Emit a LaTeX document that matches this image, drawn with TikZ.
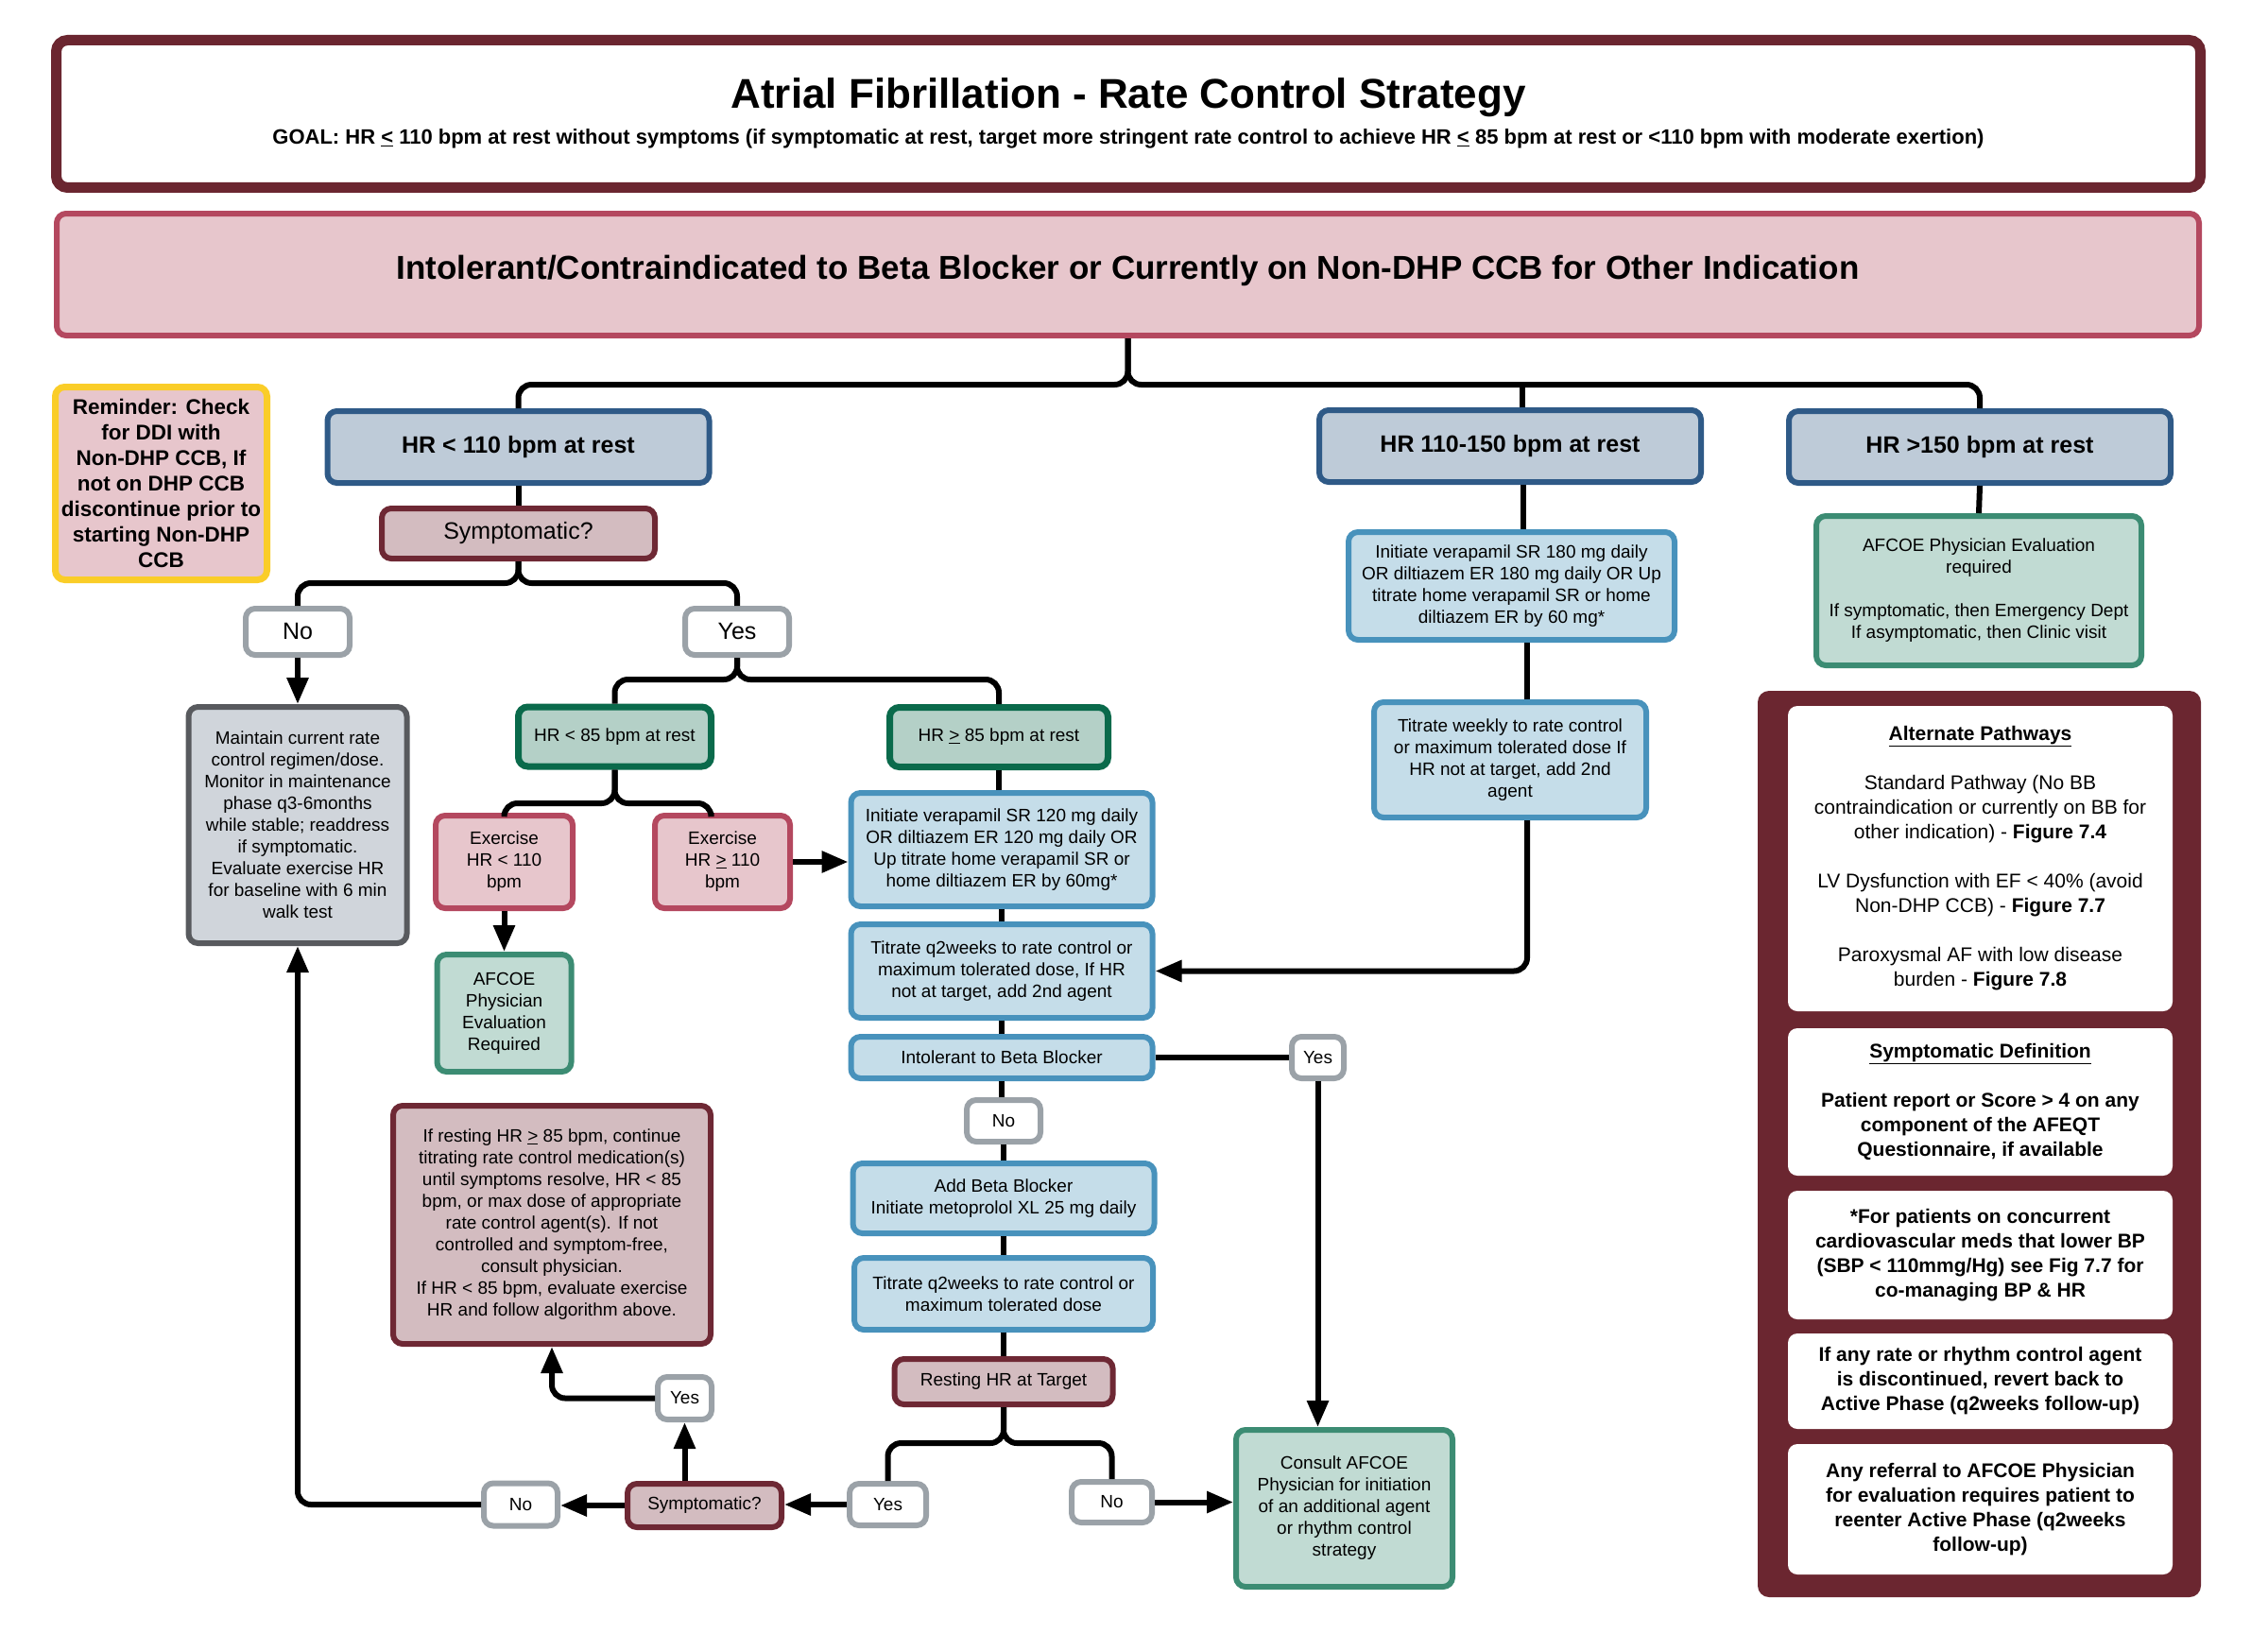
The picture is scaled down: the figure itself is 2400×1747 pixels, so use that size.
\documentclass[tikz,border=0pt]{standalone}
\usepackage{fontspec}
\setmainfont{Liberation Sans}
\usetikzlibrary{arrows.meta}
\definecolor{maroon}{HTML}{6B2630}
\definecolor{rosefill}{HTML}{E7C6CC}
\definecolor{rosedraw}{HTML}{B4485F}
\definecolor{hrfill}{HTML}{BECBD8}
\definecolor{hrdraw}{HTML}{2F5A87}
\definecolor{symfill}{HTML}{D3BCC0}
\definecolor{symdraw}{HTML}{6E2834}
\definecolor{yndraw}{HTML}{9BA2A8}
\definecolor{grayfill}{HTML}{D0D5DB}
\definecolor{graydraw}{HTML}{585A5E}
\definecolor{dgfill}{HTML}{B4D0C7}
\definecolor{dgdraw}{HTML}{0A6A4B}
\definecolor{lgfill}{HTML}{C1DBD3}
\definecolor{lgdraw}{HTML}{3C8C73}
\definecolor{bfill}{HTML}{C5DDE9}
\definecolor{bdraw}{HTML}{4892BC}
\definecolor{yel}{HTML}{FACD28}
\newcommand{\setfs}[2]{\fontsize{#1}{#2}\selectfont}
\newcommand{\uleq}[1]{\underline{#1}}
\begin{document}
\begin{tikzpicture}[x=1pt,y=-1pt,
  base/.style={rounded corners=10pt,line width=6pt,align=center,inner sep=0pt,font=\setfs{19}{23}},
  hrbox/.style={base,fill=hrfill,draw=hrdraw,font=\setfs{25}{30}\bfseries,minimum width=404,minimum height=76},
  symbox/.style={base,fill=symfill,draw=symdraw},
  ynbox/.style={base,fill=white,draw=yndraw},
  graybox/.style={base,fill=grayfill,draw=graydraw},
  dgbox/.style={base,fill=dgfill,draw=dgdraw,line width=7pt},
  rosebox/.style={base,fill=rosefill,draw=rosedraw},
  lgbox/.style={base,fill=lgfill,draw=lgdraw},
  bbox/.style={base,fill=bfill,draw=bdraw},
  pbox/.style={rounded corners=10pt,fill=white,draw=none,align=center,inner sep=0pt,font=\setfs{21}{26},minimum width=407},
  conn/.style={line width=6pt,draw=black,rounded corners=14pt},
  arr/.style={conn,-{Triangle[length=28pt,width=22pt]}}
]
\useasboundingbox (0,0) rectangle (2400,1747);

% title
\node[rounded corners=12pt,line width=11pt,draw=maroon,fill=white,minimum width=2269,minimum height=156,inner sep=0pt] (titlebox) at (1194,120.5) {};
\node[font=\setfs{44}{50}\bfseries,inner sep=0pt] (ttl) at (1194,103) {Atrial Fibrillation - Rate Control Strategy};
\node[font=\setfs{22}{26}\bfseries,inner sep=0pt] (goal) at (1194,147) {GOAL: HR \uleq{<} 110 bpm at rest without symptoms (if symptomatic at rest, target more stringent rate control to achieve HR \uleq{<} 85 bpm at rest or <110 bpm with moderate exertion)};

% banner
\node[rosebox,minimum width=2267,minimum height=129] (banner) at (1193.5,290.5) {};
\node[font=\setfs{35}{40}\bfseries,inner sep=0pt] (bannertxt) at (1193.5,286) {Intolerant/Contraindicated to Beta Blocker or Currently on Non-DHP CCB for Other Indication};

% reminder
\node[base,fill=rosefill,draw=yel,line width=7pt,minimum width=224,minimum height=204,font=\setfs{22.5}{27}\bfseries] (remind) at (170.5,511.5) {Reminder: Check\\for DDI with\\Non-DHP CCB, If\\not on DHP CCB\\discontinue prior to\\starting Non-DHP\\CCB};

% HR boxes
\node[hrbox] (hr1) at (548.5,473) {HR < 110 bpm at rest};
\node[hrbox] (hr2) at (1598,472) {HR 110-150 bpm at rest};
\node[hrbox] (hr3) at (2095,473) {HR >150 bpm at rest};

% left branch
\node[symbox,minimum width=289,minimum height=53,font=\setfs{25}{30}] (sym1) at (548.5,564.5) {Symptomatic?};
\node[ynbox,minimum width=110,minimum height=49,font=\setfs{25}{30}] (no1) at (315,668.5) {No};
\node[ynbox,minimum width=110,minimum height=49,font=\setfs{25}{30}] (yes1) at (780,668.5) {Yes};
\node[graybox,minimum width=231,minimum height=250] (maint) at (315,873) {Maintain current rate\\control regimen/dose.\\Monitor in maintenance\\phase q3-6months\\while stable; readdress\\if symptomatic.\\Evaluate exercise HR\\for baseline with 6 min\\walk test};
\node[dgbox,minimum width=204,minimum height=63] (hr85a) at (650.5,779.5) {HR < 85 bpm at rest};
\node[dgbox,minimum width=231,minimum height=63] (hr85b) at (1057,780) {HR \uleq{>} 85 bpm at rest};
\node[rosebox,minimum width=145,minimum height=98] (ex1) at (533.5,912) {Exercise\\HR < 110\\bpm};
\node[rosebox,minimum width=143,minimum height=98] (ex2) at (764.5,912) {Exercise\\HR \uleq{>} 110\\bpm};
\node[lgbox,minimum width=142,minimum height=124] (afc1) at (533.5,1072) {AFCOE\\Physician\\Evaluation\\Required};
\node[symbox,minimum width=336,minimum height=252] (big) at (584,1296) {If resting HR \uleq{>} 85 bpm, continue\\titrating rate control medication(s)\\until symptoms resolve, HR < 85\\bpm, or max dose of appropriate\\rate control agent(s). If not\\controlled and symptom-free,\\consult physician.\\If HR < 85 bpm, evaluate exercise\\HR and follow algorithm above.};

% center column
\node[bbox,minimum width=319,minimum height=120] (init120) at (1060,899) {Initiate verapamil SR 120 mg daily\\OR diltiazem ER 120 mg daily OR\\Up titrate home verapamil SR or\\home diltiazem ER by 60mg*};
\node[bbox,minimum width=319,minimum height=99] (tit1) at (1060,1027.5) {Titrate q2weeks to rate control or\\maximum tolerated dose, If HR\\not at target, add 2nd agent};
\node[bbox,minimum width=319,minimum height=44] (intol) at (1060,1119) {Intolerant to Beta Blocker};
\node[ynbox,minimum width=78,minimum height=44] (no2) at (1062,1186) {No};
\node[bbox,minimum width=319,minimum height=74] (addbb) at (1062,1268) {Add Beta Blocker\\Initiate metoprolol XL 25 mg daily};
\node[bbox,minimum width=316,minimum height=76] (tit2) at (1062,1369) {Titrate q2weeks to rate control or\\maximum tolerated dose};
\node[symbox,minimum width=231,minimum height=48] (rest) at (1062,1462) {Resting HR at Target};
\node[ynbox,minimum width=81,minimum height=44] (yes3) at (939.5,1592) {Yes};
\node[ynbox,minimum width=85,minimum height=43] (no3) at (1176.5,1589.5) {No};
\node[lgbox,minimum width=229,minimum height=166] (consult) at (1422.5,1596) {Consult AFCOE\\Physician for initiation\\of an additional agent\\or rhythm control\\strategy};
\node[symbox,minimum width=163,minimum height=46] (sym2) at (745.5,1593) {Symptomatic?};
\node[ynbox,minimum width=78,minimum height=45] (no4) at (551,1592) {No};
\node[ynbox,minimum width=57,minimum height=45] (yes4) at (724.5,1479.5) {Yes};
\node[ynbox,minimum width=55,minimum height=44] (yes2) at (1394.5,1119) {Yes};

% HR 110-150 column
\node[bbox,minimum width=345,minimum height=114] (init180) at (1599.5,620) {Initiate verapamil SR 180 mg daily\\OR diltiazem ER 180 mg daily OR Up\\titrate home verapamil SR or home\\diltiazem ER by 60 mg*};
\node[bbox,minimum width=288,minimum height=122] (titw) at (1598,804) {Titrate weekly to rate control\\or maximum tolerated dose If\\HR not at target, add 2nd\\agent};

% HR >150 column
\node[lgbox,minimum width=344,minimum height=158] (afc2) at (2094,625) {AFCOE Physician Evaluation\\required\\[23pt]If symptomatic, then Emergency Dept\\If asymptomatic, then Clinic visit};

% right panel
\node[rounded corners=12pt,fill=maroon,draw=none,minimum width=469,minimum height=959,inner sep=0pt] (panel) at (2094.5,1210.5) {};
\node[pbox,minimum height=323] (p1) at (2095.5,908.5) {\underline{\textbf{Alternate Pathways}}\\[26pt]Standard Pathway (No BB\\contraindication or currently on BB for\\other indication) - \textbf{Figure 7.4}\\[26pt]LV Dysfunction with EF < 40\% (avoid\\Non-DHP CCB) - \textbf{Figure 7.7}\\[26pt]Paroxysmal AF with low disease\\burden - \textbf{Figure 7.8}};
\node[pbox,minimum height=156,font=\setfs{21}{26}\bfseries] (p2) at (2095.5,1166) {\underline{Symptomatic Definition}\\[26pt]Patient report or Score > 4 on any\\component of the AFEQT\\Questionnaire, if available};
\node[pbox,minimum height=136,font=\setfs{21}{26}\bfseries] (p3) at (2095.5,1328) {*For patients on concurrent\\cardiovascular meds that lower BP\\(SBP < 110mmg/Hg) see Fig 7.7 for\\co-managing BP \& HR};
\node[pbox,minimum height=101,font=\setfs{21}{26}\bfseries] (p4) at (2095.5,1461.5) {If any rate or rhythm control agent\\is discontinued, revert back to\\Active Phase (q2weeks follow-up)};
\node[pbox,minimum height=138,font=\setfs{21}{26}\bfseries] (p5) at (2095.5,1597) {Any referral to AFCOE Physician\\for evaluation requires patient to\\reenter Active Phase (q2weeks\\follow-up)};

% junction coordinates
\coordinate (j0) at (1194,407);
\coordinate (j1) at (548.5,617);
\coordinate (j2) at (780,719);
\coordinate (j3) at (650.5,850);
\coordinate (j4) at (1062,1527);

% connectors
\draw[conn] (banner.south) |- (hr1.north |- j0) -- (hr1.north);
\draw[conn] (banner.south) |- (hr3.north |- j0) -- (hr3.north);
\draw[conn] ([xshift=13pt]hr2.north |- j0) -- ([xshift=13pt]hr2.north);
\draw[conn] (hr1.south) -- (sym1.north);
\draw[conn] (sym1.south) |- (no1.north |- j1) -- (no1.north);
\draw[conn] (sym1.south) |- (yes1.north |- j1) -- (yes1.north);
\draw[arr] (no1.south) -- (maint.north);
\draw[conn] (yes1.south) |- (hr85a.north |- j2) -- (hr85a.north);
\draw[conn] (yes1.south) |- (hr85b.north |- j2) -- (hr85b.north);
\draw[conn] (hr85a.south) |- ([xshift=-12pt]ex2.north |- j3) -- ([xshift=-12pt]ex2.north);
\draw[conn] (hr85a.south) |- (ex1.north |- j3) -- (ex1.north);
\draw[arr] (ex1.south) -- (afc1.north);
\draw[arr] (ex2.east) -- (ex2.east -| init120.west);
\draw[conn] (hr85b.south) -- (hr85b.south |- init120.north);
\draw[conn] (init120.south) -- (tit1.north);
\draw[conn] (tit1.south) -- (intol.north);
\draw[conn] (intol.south) -- (intol.south |- no2.north);
\draw[conn] (no2.south) -- (addbb.north);
\draw[conn] (addbb.south) -- (tit2.north);
\draw[conn] (tit2.south) -- (rest.north);
\draw[conn] (intol.east) -- (yes2.west);
\draw[arr] (yes2.south) -- (yes2.south |- consult.north);
\draw[conn] (rest.south) |- (yes3.north |- j4) -- (yes3.north);
\draw[conn] (rest.south) |- (no3.north |- j4) -- (no3.north);
\draw[arr] (no3.east) -- (no3.east -| consult.west);
\draw[arr] (yes3.west) -- (yes3.west -| sym2.east);
\draw[arr] (sym2.west) -- (sym2.west -| no4.east);
\draw[arr] (no4.west) -| (maint.south);
\draw[arr] (yes4.south |- sym2.north) -- (yes4.south);
\draw[arr] (yes4.west) -| (big.south);
\draw[conn] ([xshift=14pt]hr2.south) -- ([xshift=14pt]hr2.south |- init180.north);
\draw[conn] ([xshift=16pt]init180.south) -- ([xshift=16pt]init180.south |- titw.north);
\draw[arr] ([xshift=18pt]titw.south) |- (tit1.east);
\draw[conn] (hr3.south) -- (afc2.north);
\end{tikzpicture}
\end{document}
